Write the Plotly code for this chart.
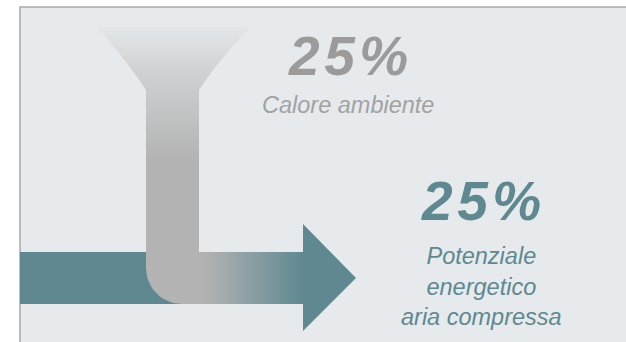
import numpy as np
import plotly.graph_objects as go

# ---- data ----
labels = ["Calore ambiente", "Potenziale<br>energetico<br>aria compressa"]
values = [25, 25]
label_colors = ["#a2a2a2", "#5f8891"]
value_colors = ["#9b9b9b", "#5f8891"]

TEAL = "#5f8891"
GRAY = "#b3b3b3"
PANEL = "#e6eaed"

fig = go.Figure()

# panel
fig.add_shape(type="rect", x0=20, x1=640, y0=7, y1=360, fillcolor=PANEL,
              line=dict(color="#a8a8a8", width=1.5), layer="below")

# teal band + arrowhead
bx = [20, 303, 303, 356, 303, 303, 20, 20]
by = [252, 252, 224, 278, 331, 304, 304, 252]
fig.add_trace(go.Scatter(x=bx, y=by, fill="toself", mode="lines", line=dict(width=0),
                         fillcolor=TEAL, hoverinfo="skip", showlegend=False))

# funnel + stem
t = np.linspace(0, 1, 30)
p0, p1, p2 = np.array([97, 27]), np.array([128, 62]), np.array([146, 90])
left = [(1 - s) ** 2 * p0 + 2 * (1 - s) * s * p1 + s ** 2 * p2 for s in t]
q0, q1, q2 = np.array([250, 27]), np.array([217, 62]), np.array([199, 90])
right = [(1 - s) ** 2 * q0 + 2 * (1 - s) * s * q1 + s ** 2 * q2 for s in t]
cx, cy, r = 182, 268, 36
ang = np.linspace(np.pi, np.pi / 2, 20)
arc = [(cx + r * np.cos(a), cy + r * np.sin(a)) for a in ang]
pts = [tuple(p) for p in left] + [(146, 268)] + arc + [(200, 304), (200, 252), (199, 252)] + [tuple(p) for p in right[::-1]]
fx = [p[0] for p in pts] + [pts[0][0]]
fy = [p[1] for p in pts] + [pts[0][1]]
fig.add_trace(go.Scatter(x=fx, y=fy, fill="toself", mode="lines", line=dict(width=0),
                         fillgradient=dict(type="vertical", start=27, stop=160,
                                           colorscale=[[0, "#e4e7ea"], [0.3, "#d2d3d5"], [1, GRAY]]),
                         hoverinfo="skip", showlegend=False))

# horizontal gradient piece
fig.add_trace(go.Scatter(x=[199, 304, 304, 199, 199], y=[252, 252, 304, 304, 252], fill="toself",
                         mode="lines", line=dict(width=0),
                         fillgradient=dict(type="horizontal", start=199, stop=304,
                                           colorscale=[[0, GRAY], [0.12, "#adb0b1"], [1, TEAL]]),
                         hoverinfo="skip", showlegend=False))

# texts
pos = [(348, 56, 105), (481, 201, 286)]
for (xc, yv, yl), lab, v, vc, lc in zip(pos, labels, values, value_colors, label_colors):
    fig.add_annotation(x=xc, y=yv, xref="x", yref="y", showarrow=False,
                       text="<b><i>" + "\u200a".join(list(f"{v}%")) + "</i></b>",
                       font=dict(family="Liberation Sans, Arial", size=55, color=vc))
    fig.add_annotation(x=xc, y=yl, xref="x", yref="y", showarrow=False, yanchor="middle",
                       text="<i>" + lab + "</i>",
                       font=dict(family="Liberation Sans, Arial", size=23.5, color=lc))

fig.update_layout(width=626, height=342, margin=dict(l=0, r=0, t=0, b=0),
                  paper_bgcolor="white", plot_bgcolor="white",
                  xaxis=dict(range=[0, 626], visible=False, fixedrange=True),
                  yaxis=dict(range=[342, 0], visible=False, fixedrange=True))
fig.write_html("out.html")
